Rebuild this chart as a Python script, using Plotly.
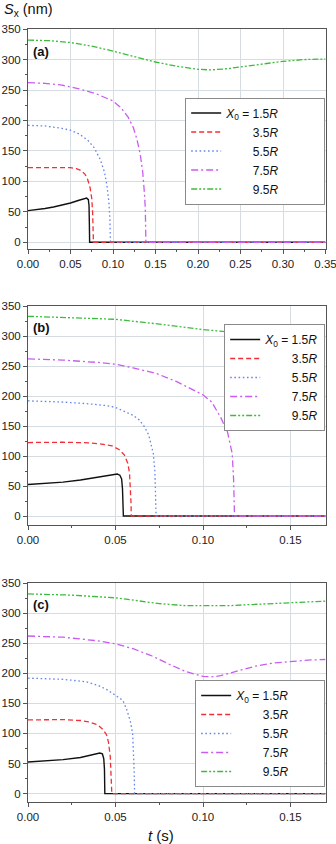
import plotly.graph_objects as go

W, H = 336, 844

# ---------------- data: panel (a) ----------------
a_t15 = [0, 0.01, 0.02, 0.03, 0.04, 0.05, 0.06, 0.066, 0.069, 0.071, 0.0718, 0.0722, 0.0725, 0.35]
a_s15 = [52, 53.5, 55.5, 58, 61, 64.5, 69, 72, 72.5, 70, 60, 30, 0, 0]
a_t35 = [0, 0.02, 0.04, 0.05, 0.057, 0.062, 0.067, 0.07, 0.073, 0.075, 0.076, 0.0767, 0.077, 0.35]
a_s35 = [122.5, 123, 123, 122.5, 121, 118, 112, 104, 90, 72, 50, 25, 0, 0]
a_t55 = [0, 0.02, 0.04, 0.05, 0.06, 0.07, 0.078, 0.085, 0.09, 0.093, 0.095, 0.0963, 0.097, 0.35]
a_s55 = [192, 191, 187, 184, 178, 168, 155, 136, 115, 92, 68, 40, 0, 0]
a_t75 = [0, 0.02, 0.04, 0.06, 0.08, 0.10, 0.11, 0.118, 0.124, 0.128, 0.132, 0.135, 0.137, 0.138, 0.1387, 0.35]
a_s75 = [262, 261, 258, 252, 244, 232, 220, 205, 188, 170, 145, 115, 80, 55, 0, 0]
a_t95 = [0, 0.025, 0.05, 0.075, 0.10, 0.125, 0.15, 0.175, 0.20, 0.215, 0.235, 0.25, 0.275, 0.30, 0.325, 0.35]
a_s95 = [332, 331, 328, 322, 314, 305, 296, 289, 284, 283, 285, 288, 293, 297, 300, 301]

# ---------------- data: panel (b) ----------------
b_t15 = [0, 0.01, 0.02, 0.03, 0.04, 0.048, 0.051, 0.0525, 0.0535, 0.054, 0.0545, 0.17]
b_s15 = [52.5, 54, 56.5, 60, 64.5, 69, 70, 68, 62, 45, 0, 0]
b_t35 = [0, 0.02, 0.035, 0.042, 0.048, 0.052, 0.055, 0.057, 0.058, 0.0585, 0.0589, 0.059, 0.17]
b_s35 = [122.5, 123, 122, 120, 117, 111, 102, 88, 72, 50, 20, 0, 0]
b_t55 = [0, 0.02, 0.035, 0.045, 0.05, 0.056, 0.06, 0.0636, 0.0665, 0.069, 0.0716, 0.0725, 0.073, 0.0732, 0.17]
b_s55 = [192, 190, 187, 184, 181, 174, 168, 160, 149, 135, 104, 75, 40, 0, 0]
b_t75 = [0, 0.02, 0.04, 0.05, 0.06, 0.073, 0.085, 0.095, 0.10, 0.105, 0.11, 0.114, 0.1167, 0.1175, 0.118, 0.17]
b_s75 = [262, 260, 256, 253, 247, 238, 224, 210, 202, 190, 165, 140, 104, 60, 0, 0]
b_t95 = [0, 0.025, 0.05, 0.075, 0.10, 0.12, 0.14, 0.155, 0.17]
b_s95 = [333, 331, 328, 320, 311, 305.5, 303.5, 304, 307]

# ---------------- data: panel (c) ----------------
c_t15 = [0, 0.01, 0.02, 0.03, 0.037, 0.041, 0.0425, 0.0433, 0.0437, 0.0439, 0.17]
c_s15 = [52.5, 54, 56.5, 60, 64.5, 67.5, 66, 58, 40, 0, 0]
c_t35 = [0, 0.02, 0.03, 0.035, 0.04, 0.043, 0.045, 0.046, 0.047, 0.0475, 0.0479, 0.17]
c_s35 = [122.5, 123, 121.5, 119, 114, 106, 97, 85, 62, 35, 0, 0]
c_t55 = [0, 0.02, 0.033, 0.04, 0.045, 0.05, 0.0542, 0.0565, 0.0585, 0.0598, 0.0604, 0.0607, 0.0609, 0.17]
c_s55 = [192, 190, 186, 180, 173, 164, 155, 139, 120, 100, 70, 35, 0, 0]
c_t75 = [0, 0.02, 0.04, 0.05, 0.06, 0.07, 0.08, 0.09, 0.10, 0.105, 0.11, 0.12, 0.13, 0.14, 0.15, 0.16, 0.17]
c_s75 = [262, 260, 254, 249, 241, 230, 216, 203, 195, 194, 196, 204, 212, 217, 220, 222, 223]
c_t95 = [0, 0.025, 0.05, 0.075, 0.09, 0.10, 0.115, 0.125, 0.15, 0.17]
c_s95 = [332, 330, 325.5, 316, 312.5, 312, 312.5, 314, 317.5, 320]

# ---------------- labels ----------------
nb = "\u00a0"
lab_first = "<i>X</i><sub>0</sub> = 1.5<i>R</i>"
lab_rest = ["3.5<i>R</i>", "5.5<i>R</i>", "7.5<i>R</i>", "9.5<i>R</i>"]
panel_tags = ["(a)", "(b)", "(c)"]
xranges = [[0, 0.35], [0, 0.17], [0, 0.17]]
yranges = [[-11, 351], [-15, 351], [-14, 351]]
x_tickvals = [[0, 0.05, 0.10, 0.15, 0.20, 0.25, 0.30, 0.35], [0, 0.05, 0.10, 0.15], [0, 0.05, 0.10, 0.15]]
y_tickvals = [0, 50, 100, 150, 200, 250, 300, 350]

colors = ["#111111", "#f03036", "#6486ea", "#c95cf0", "#3cbc3c"]
dashes = ["solid", "5px,3px", "1.6px,2.6px", "7px,3px,2px,3px", "6px,2px,2px,2px,2px,2px"]

panels = [
    [(a_t15, a_s15), (a_t35, a_s35), (a_t55, a_s55), (a_t75, a_s75), (a_t95, a_s95)],
    [(b_t15, b_s15), (b_t35, b_s35), (b_t55, b_s55), (b_t75, b_s75), (b_t95, b_s95)],
    [(c_t15, c_s15), (c_t35, c_s35), (c_t55, c_s55), (c_t75, c_s75), (c_t95, c_s95)],
]

# layout geometry in pixels
x_px = (28, 325.5)
frames_px = [(28.5, 249), (305.5, 525), (582.5, 802)]
legend_centers = [151, 377.5, 733.5]
legend_trail = [12, 0, 9]
tag_y = [51, 327, 604]

fig = go.Figure()
layout = dict(
    width=W, height=H, autosize=False,
    margin=dict(l=0, r=0, t=0, b=0, autoexpand=False),
    paper_bgcolor="white", plot_bgcolor="white",
    font=dict(family="Arial, Liberation Sans, sans-serif", size=11.5, color="#222"),
    annotations=[], showlegend=True,
)

for p in range(3):
    sfx = "" if p == 0 else str(p + 1)
    xa, ya = "x" + sfx, "y" + sfx
    leg = "legend" + sfx
    trail = nb * legend_trail[p]
    for k, (tt, ss) in enumerate(panels[p]):
        name = (lab_first if k == 0 else nb * 8 + lab_rest[k - 1]) + trail
        fig.add_trace(go.Scatter(
            x=tt, y=ss, mode="lines", name=name, xaxis=xa, yaxis=ya, legend=leg,
            line=dict(color=colors[k], width=1.4 if k == 0 else 1.3, dash=dashes[k]),
        ))
    top, bot = frames_px[p]
    axis_common = dict(
        showline=True, mirror=True, linecolor="#555", linewidth=1,
        ticks="outside", ticklen=4, tickcolor="#555", tickwidth=1,
        showgrid=True, gridcolor="#d6dde2", gridwidth=1, zeroline=False,
        tickfont=dict(size=11.5, color="#222"), ticklabeloverflow="allow",
        automargin=False,
    )
    layout["xaxis" + sfx] = dict(
        axis_common, domain=[x_px[0] / W, x_px[1] / W], anchor=ya,
        range=xranges[p], tickmode="array", tickvals=x_tickvals[p], tickformat=".2f",
        minor=dict(ticks="outside", ticklen=2, tickcolor="#555", dtick=0.025, tick0=0, showgrid=False),
    )
    layout["yaxis" + sfx] = dict(
        axis_common, domain=[1 - bot / H, 1 - top / H], anchor=xa,
        range=yranges[p], tickvals=y_tickvals,
        minor=dict(ticks="outside", ticklen=2, tickcolor="#555", dtick=25, tick0=0, showgrid=False),
    )
    layout[leg] = dict(
        x=x_px[1] / W - 0.001, xanchor="right", y=1 - legend_centers[p] / H, yanchor="middle",
        bgcolor="white", bordercolor="#8a8a8a", borderwidth=1,
        font=dict(size=12, color="#111"), itemwidth=30, tracegroupgap=0,
    )
    layout["annotations"].append(dict(
        text="<b>" + panel_tags[p] + "</b>", xref="paper", yref="paper",
        x=31 / W, y=1 - tag_y[p] / H, xanchor="left", yanchor="middle",
        showarrow=False, font=dict(size=13, color="#111"),
    ))

layout["annotations"].append(dict(
    text="<i>S</i><sub>x</sub> (nm)", xref="paper", yref="paper",
    x=2 / W, y=1 - 10 / H, xanchor="left", yanchor="middle",
    showarrow=False, font=dict(size=14.5, color="#111"),
))
layout["annotations"].append(dict(
    text="<i>t</i> (s)", xref="paper", yref="paper",
    x=161 / W, y=1 - 835 / H, xanchor="center", yanchor="middle",
    showarrow=False, font=dict(size=15, color="#111"),
))

fig.update_layout(**layout)
fig.write_html("out.html", config={"displayModeBar": False},
               post_script="document.body.style.margin='0';")
